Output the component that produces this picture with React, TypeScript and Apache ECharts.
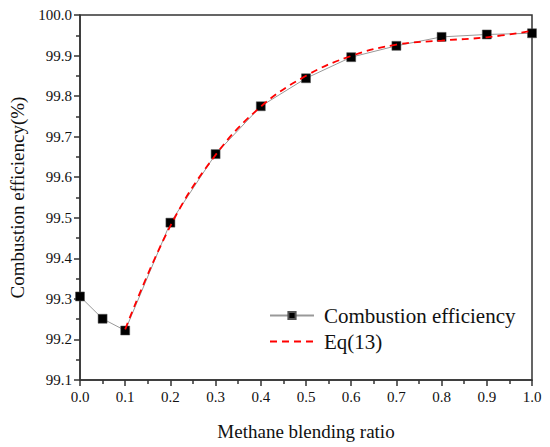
import React, { useEffect, useRef } from "react";
import * as echarts from "echarts";

const ratios = [0, 0.05, 0.1, 0.2, 0.3, 0.4, 0.5, 0.6, 0.7, 0.8, 0.9, 1.0];
const efficiency = [99.306, 99.251, 99.222, 99.488, 99.657, 99.775, 99.844, 99.896, 99.924, 99.946, 99.952, 99.955];
const eqRatios = [0.1, 0.2, 0.3, 0.4, 0.5, 0.6, 0.7, 0.8, 0.9, 1.0];
const eqValues = [99.225, 99.48, 99.655, 99.774, 99.85, 99.899, 99.927, 99.937, 99.945, 99.961];
const xTicks = [0, 0.1, 0.2, 0.3, 0.4, 0.5, 0.6, 0.7, 0.8, 0.9, 1.0];
const yTicks = [99.1, 99.2, 99.3, 99.4, 99.5, 99.6, 99.7, 99.8, 99.9, 100.0];

const FONT = "Liberation Serif";
const AX = "#333";

export default function App() {
  const ref = useRef<HTMLDivElement>(null);
  useEffect(() => {
    if (!ref.current) return;
    const chart = echarts.init(ref.current, undefined, { renderer: "svg" });
    const effData = ratios.map((x, i) => [x, efficiency[i]]);
    const eqData = eqRatios.map((x, i) => [x, eqValues[i]]);
    chart.setOption({
      animation: false,
      textStyle: { fontFamily: FONT },
      grid: {
        left: 78,
        right: 18,
        top: 15,
        bottom: 67,
        show: true,
        borderColor: AX,
        borderWidth: 1.5,
        backgroundColor: "transparent",
      },
      legend: {
        orient: "vertical",
        left: 264,
        top: 300,
        itemWidth: 44,
        itemHeight: 9,
        itemGap: 5,
        textStyle: { fontFamily: FONT, fontSize: 21, color: "#111", padding: [0, 0, 0, 5] },
        data: [
          { name: "Combustion efficiency" },
          { name: "Eq(13)", itemStyle: { opacity: 0 } },
        ],
      },
      xAxis: {
        type: "value",
        min: xTicks[0],
        max: xTicks[xTicks.length - 1],
        interval: 0.1,
        name: "Methane blending ratio",
        nameLocation: "middle",
        nameGap: 42,
        nameTextStyle: { fontFamily: FONT, fontSize: 19, color: "#111" },
        axisLine: { lineStyle: { color: AX, width: 1.5 } },
        axisTick: { show: true, length: 6, lineStyle: { color: AX, width: 1.5 } },
        minorTick: { show: true, splitNumber: 2, length: 4, lineStyle: { color: AX, width: 1.5 } },
        splitLine: { show: false },
        axisLabel: {
          fontFamily: FONT,
          fontSize: 15,
          color: "#111",
          margin: 9,
          formatter: (v: number) => v.toFixed(1),
        },
      },
      yAxis: {
        type: "value",
        min: yTicks[0],
        max: yTicks[yTicks.length - 1],
        interval: 0.1,
        name: "Combustion efficiency(%)",
        nameLocation: "middle",
        nameGap: 53,
        nameTextStyle: { fontFamily: FONT, fontSize: 19, color: "#111" },
        axisLine: { show: true, lineStyle: { color: AX, width: 1.5 } },
        axisTick: { show: true, length: 6, lineStyle: { color: AX, width: 1.5 } },
        minorTick: { show: true, splitNumber: 2, length: 4, lineStyle: { color: AX, width: 1.5 } },
        splitLine: { show: false },
        axisLabel: {
          fontFamily: FONT,
          fontSize: 15,
          color: "#111",
          margin: 8,
          formatter: (v: number) => v.toFixed(1),
        },
      },
      series: [
        {
          name: "Combustion efficiency",
          type: "line",
          data: effData,
          symbol: "rect",
          symbolSize: 9,
          lineStyle: { color: "#999", width: 1 },
          itemStyle: { color: "#000", borderColor: "#555", borderWidth: 0.5 },
          z: 2,
        },
        {
          name: "Eq(13)",
          type: "line",
          data: eqData,
          smooth: 0.4,
          symbol: "none",
          lineStyle: { color: "#ff0000", width: 1.8, type: [7, 5] },
          itemStyle: { color: "#ff0000" },
          z: 3,
        },
      ],
    });
    return () => chart.dispose();
  }, []);
  return (
    <div
      ref={ref}
      style={{ position: "absolute", left: 0, top: 0, width: 550, height: 447, background: "#fff" }}
    />
  );
}
